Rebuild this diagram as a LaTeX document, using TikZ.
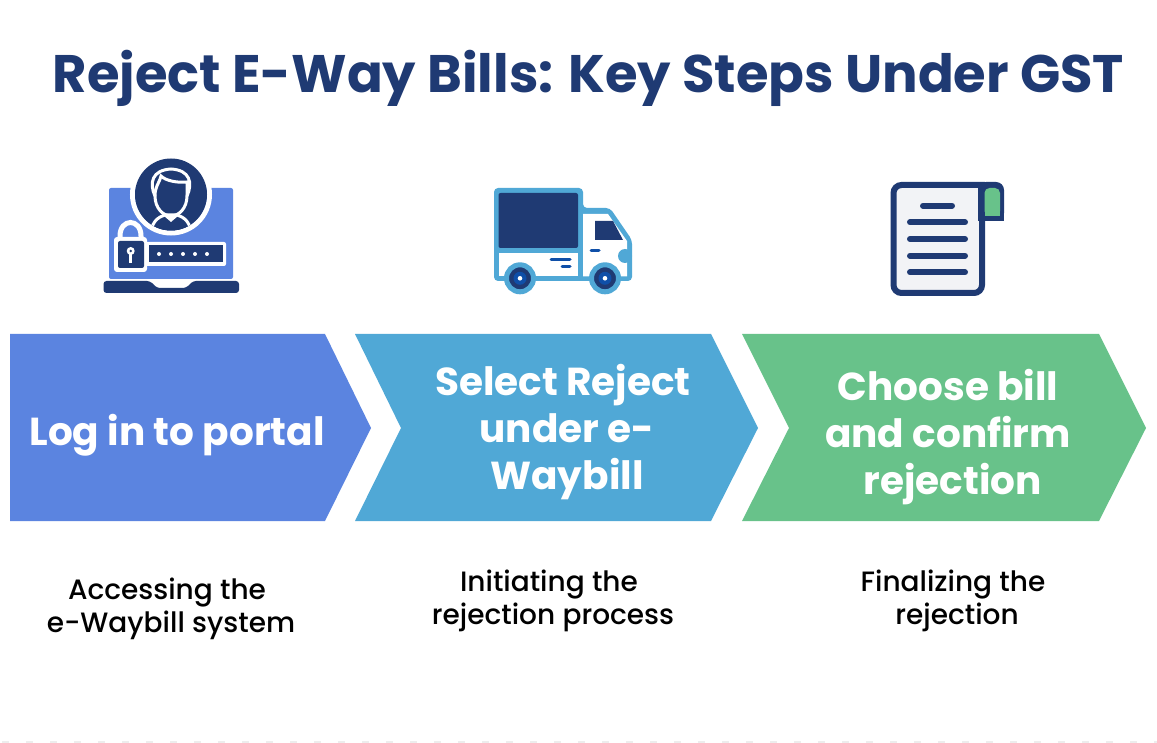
\documentclass[tikz,border=0pt]{standalone}
\usepackage{fontspec}
\setmainfont{Poppins}
\newfontfamily\capfont{Poppins Medium}
\definecolor{navy}{HTML}{1F3A73}
\definecolor{stepblue}{HTML}{5B84E0}
\definecolor{stepsky}{HTML}{50A8D6}
\definecolor{stepgreen}{HTML}{68C28A}
\definecolor{paper}{HTML}{F2F3F6}
\definecolor{hubblue}{HTML}{0F4FA8}
\tikzset{
  steptext/.style={text=white,align=center,font=\fontsize{39}{47}\selectfont\bfseries},
  captext/.style={text=black,align=center,font=\fontsize{28}{33}\selectfont\capfont},
  docline/.style={navy,line width=6pt,line cap=round},
  wheel/.style={fill=navy,draw=stepsky,line width=5pt},
  truckmark/.style={hubblue,line width=3pt,line cap=round},
  faceline/.style={white,line width=3pt},
}
\begin{document}
\begin{tikzpicture}[x=1pt,y=-1pt]
\useasboundingbox (0,0) rectangle (1157,743);
\fill[white] (0,0) rectangle (1157,743);
\node[text=navy,font=\fontsize{52.8}{60}\selectfont\bfseries] (title) at (588.5,78) {Reject E-Way Bills: Key Steps Under GST};
% arrows
\fill[stepblue] (10,334) -- (325,334) -- (371,428) -- (325,521) -- (10,521) -- cycle;
\fill[stepsky] (355,334) -- (711,334) -- (758,428) -- (711,521) -- (355,521) -- (401,428) -- cycle;
\fill[stepgreen] (742,334) -- (1099,334) -- (1146,428) -- (1099,521) -- (742,521) -- (789,428) -- cycle;
\node[steptext] (stepa) at (177,435) {Log in to portal};
\node[steptext] (stepb) at (567,432) {Select Reject\hspace*{8pt}\\under e-\\Waybill};
\node[steptext] (stepc) at (948,437) {Choose bill\\and confirm\\\hspace*{9pt}rejection};
\node[captext] (capa) at (171,609) {Accessing the\hspace*{8pt}\\e-Waybill system};
\node[captext] (capb) at (553,600.5) {Initiating the\hspace*{8pt}\\rejection process};
\node[captext] (capc) at (957,600.5) {Finalizing the\hspace*{8pt}\\rejection};
% laptop
\fill[stepblue,rounded corners=2pt] (109,188) rectangle (233,279);
\fill[navy,rounded corners=3pt] (103.5,281) -- (150,281) -- (157,288) -- (186,288) -- (193,281) -- (239,281) -- (239,293) -- (103.5,293) -- cycle;
\draw[white,line width=5pt] (171,194.5) circle [radius=38.5];
\fill[navy] (171,194.5) circle [radius=36];
\begin{scope}
  \clip (171,194.5) circle [radius=36];
  \draw[faceline,fill=navy] (151,233) .. controls (152,220) and (160,215) .. (171,214) .. controls (182,215) and (190,220) .. (191,233);
\end{scope}
\draw[faceline,fill=navy] (155,196) .. controls (155,208) and (163,216) .. (171,216) .. controls (179,216) and (187,208) .. (187,196) -- (187,182) .. controls (178,183) and (166,181) .. (161,176) .. controls (159,184) and (155,186) .. (155,196) -- cycle;
\draw[faceline] (155,196) .. controls (149,183) and (152,170) .. (171,169) .. controls (190,170) and (193,183) .. (187,196);
\fill[white] (164,216) -- (171,222) -- (178,216) -- (178,213.5) -- (164,213.5) -- cycle;
% lock and password
\draw[white,line width=5pt] (120,245) -- (120,236) .. controls (120,218) and (141,218) .. (141,236) -- (141,245);
\fill[white,rounded corners=3pt] (114,237) rectangle (147,272);
\fill[white,rounded corners=2pt] (145,242) rectangle (226,266);
\fill[navy,rounded corners=2pt] (118,241) rectangle (144,268);
\fill[navy] (149,245) rectangle (223,262);
\fill[white] (130.7,251) circle [radius=4];
\fill[white] (129.2,252) rectangle (132.2,263);
\fill[navy] (130.7,251) circle [radius=1.3];
\foreach \dotx in {159,171,183,195,207}
  \fill[white] (\dotx,254) circle [radius=2];
% truck
\fill[stepsky,rounded corners=4pt] (494,188) -- (583,188) -- (583,208) -- (610,208) -- (632,240) -- (632,281) -- (494,281) -- cycle;
\fill[white] (498.5,248) rectangle (578,276.5);
\fill[navy,rounded corners=2pt] (498.5,193) -- (578,193) -- (578,248) -- (498.5,248) -- cycle;
\fill[white] (583,214) -- (608,214) -- (627,241) -- (627,276.5) -- (583,276.5) -- cycle;
\fill[stepsky] (494,248) rectangle (583,253);
\fill[navy] (595,221) -- (613,221) -- (623,240) -- (595,240) -- cycle;
\fill[stepsky] (625,256) circle [radius=7];
\draw[truckmark] (551,260) -- (570,260);
\draw[truckmark] (562,267) -- (570,267);
\draw[truckmark] (591,251) -- (599,251);
\draw[wheel] (520,278.3) circle [radius=13.5];
\draw[wheel] (605,278.3) circle [radius=13.5];
\fill[hubblue] (520,278.3) circle [radius=6.5];
\fill[hubblue] (605,278.3) circle [radius=6.5];
\fill[white] (520,278.3) circle [radius=2.3];
\fill[white] (605,278.3) circle [radius=2.3];
% document
\draw[navy,line width=6pt,fill=paper] (982,240) [rounded corners=8pt] -- (982,293) -- (893.5,293) -- (893.5,185) [sharp corners] -- (982,185) -- cycle;
\fill[navy,rounded corners=8pt] (978,182) -- (1004,182) -- (1004,221) -- (978,221) -- cycle;
\fill[navy] (978,182) rectangle (990,221);
\fill[navy] (990,210) rectangle (1004,221);
\fill[stepgreen,rounded corners=5pt] (984.5,188) -- (1000,188) -- (1000,216) -- (984.5,216) -- cycle;
\fill[stepgreen] (984.5,205) rectangle (1000,216);
\draw[docline] (923,205.7) -- (952,205.7);
\foreach \liney in {222.3,239,255.7,272.3}
  \draw[docline] (910,\liney) -- (965,\liney);
% faint marks along the bottom edge
\foreach \markx in {2,26,...,1154}
  \fill[black!7] (\markx,741) rectangle +(7,2);
\end{tikzpicture}
\end{document}
